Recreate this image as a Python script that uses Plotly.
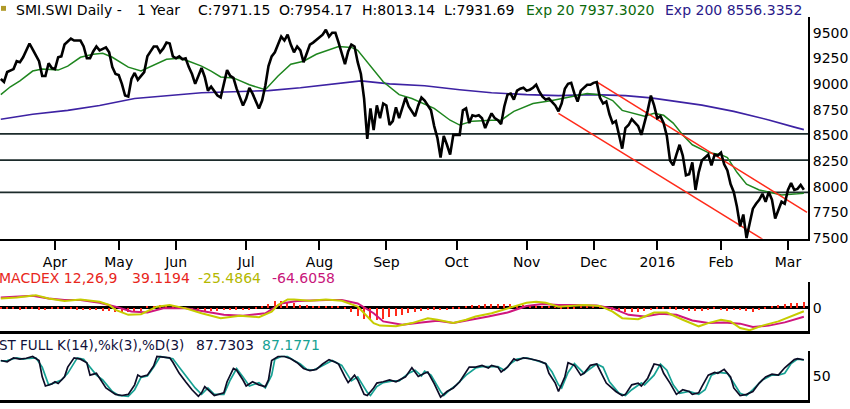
import pandas as pd
import plotly.graph_objects as go

# SIX trading calendar for the year shown (weekdays minus exchange holidays)
holidays = ["2015-04-03", "2015-04-06", "2015-05-01", "2015-05-14", "2015-05-25",
            "2015-12-24", "2015-12-25", "2015-12-31", "2016-01-01"]
days = pd.bdate_range("2015-03-09", "2016-03-08")
days = days[~days.isin(pd.to_datetime(holidays))]

month_labels = ["Apr", "May", "Jun", "Jul", "Aug", "Sep", "Oct", "Nov", "Dec", "2016", "Feb", "Mar"]
first_of_month = pd.Series(range(len(days)), index=days).groupby([days.year, days.month]).min()
month_ticks = list(first_of_month.values[1:])

# closing prices (session number -> close)
price_session = [0, 1, 2, 4, 5, 6, 7, 9, 10, 12, 13, 14, 15, 16, 17, 18, 19, 20, 22, 23,
                 25, 26, 27, 28, 29, 30, 31, 33, 34, 35, 36, 37, 38, 39, 40, 41, 42, 43, 45, 46,
                 47, 48, 49, 50, 51, 52, 53, 54, 55, 56, 57, 58, 59, 60, 61, 63, 64, 65, 66, 68,
                 69, 70, 71, 72, 73, 74, 76, 77, 78, 79, 80, 81, 82, 83, 84, 85, 86, 88, 89, 90,
                 91, 92, 93, 94, 95, 96, 97, 98, 100, 101, 102, 103, 104, 105, 106, 107, 108, 109, 110, 111,
                 112, 113, 114, 115, 116, 117, 118, 119, 120, 121, 122, 123, 124, 125, 126, 127, 128, 130, 131, 132,
                 133, 135, 136, 137, 138, 139, 140, 141, 142, 143, 144, 145, 146, 147, 148, 149, 150, 151, 152, 153,
                 154, 155, 156, 157, 158, 159, 160, 161, 162, 163, 164, 165, 166, 167, 168, 169, 170, 171, 172, 174,
                 175, 176, 177, 178, 179, 180, 181, 182, 184, 185, 186, 187, 188, 189, 190, 191, 192, 193, 194, 195,
                 196, 197, 198, 200, 201, 202, 203, 204, 205, 206, 207, 208, 209, 210, 211, 212, 213, 214, 215, 216,
                 217, 218, 219, 220, 221, 222, 223, 224, 225, 226, 227, 228, 229, 230, 231, 232, 233, 234, 235, 236,
                 237, 238, 239, 240, 241, 242, 243, 244, 245, 246, 247, 248, 249, 250, 251, 252]
close = [9050, 9022, 9117, 9146, 9223, 9213, 9261, 9395, 9337, 9223, 9079, 9079, 9203, 9156, 9146, 9261, 9270, 9385, 9443, 9424,
         9424, 9366, 9251, 9251, 9318, 9366, 9328, 9357, 9309, 9165, 9098, 9089, 9002, 8888, 8878, 9050, 9108, 9041, 9117, 9270,
         9318, 9366, 9366, 9309, 9347, 9404, 9395, 9270, 9251, 9270, 9242, 9251, 9165, 9098, 9002, 9156, 9069, 8936, 8974, 8888,
         8869, 9002, 9136, 9079, 9060, 8955, 8792, 8859, 8964, 8907, 8830, 8763, 8840, 8983, 9175, 9270, 9309, 9462, 9424, 9481,
         9385, 9309, 9366, 9328, 9213, 9290, 9385, 9404, 9452, 9481, 9529, 9462, 9500, 9500, 9404, 9309, 9194, 9318, 9385, 9366,
         9213, 9098, 8859, 8467, 8763, 8553, 8792, 8668, 8811, 8792, 8601, 8639, 8773, 8668, 8763, 8869, 8782, 8687, 8792, 8869,
         8840, 8744, 8591, 8476, 8285, 8495, 8409, 8313, 8505, 8505, 8505, 8744, 8763, 8620, 8696, 8687, 8696, 8668, 8572, 8648,
         8715, 8668, 8648, 8610, 8782, 8897, 8907, 8849, 8936, 8955, 8964, 8936, 8945, 8964, 8993, 8926, 8878, 8849, 8859, 8792,
         8735, 8811, 8955, 9002, 9012, 8907, 8830, 8936, 8993, 8993, 9012, 9020, 8869, 8811, 8830, 8706, 8620, 8639, 8495, 8371,
         8572, 8601, 8658, 8591, 8505, 8620, 8744, 8888, 8792, 8668, 8687, 8620, 8495, 8256, 8208, 8313, 8409, 8304, 8112, 8122,
         8237, 7969, 8141, 8256, 8285, 8313, 8208, 8313, 8304, 8333, 8218, 8160, 8026, 7950, 7806, 7615, 7730, 7500, 7644, 7787,
         7835, 7873, 7931, 7854, 7950, 7873, 7691, 7777, 7854, 7835, 7969, 8036, 7969, 7979, 8017, 7971.15]

ema20_session = [0, 3, 6, 10, 13, 18, 21, 25, 29, 32, 35, 40, 44, 48, 52, 56, 59, 63, 66, 69,
                 73, 78, 83, 87, 91, 95, 99, 106, 110, 112, 116, 120, 125, 129, 136, 141, 144, 148, 154, 157,
                 161, 167, 173, 180, 184, 188, 192, 195, 199, 202, 205, 208, 211, 214, 217, 222, 226, 228, 231, 234,
                 238, 241, 245, 250, 252]
ema20 = [8897, 8974, 9031, 9127, 9146, 9136, 9175, 9261, 9290, 9299, 9261, 9165, 9127, 9184, 9242, 9251, 9223, 9175, 9127, 9069,
         9060, 8993, 8945, 9079, 9194, 9223, 9290, 9366, 9357, 9328, 9175, 9022, 8897, 8859, 8763, 8648, 8601, 8639, 8648, 8648,
         8735, 8811, 8840, 8878, 8907, 8897, 8840, 8744, 8715, 8687, 8715, 8696, 8620, 8505, 8409, 8333, 8313, 8285, 8141, 8026,
         7969, 7950, 7921, 7931, 7937.30]

ema200_session = [0, 10, 21, 31, 42, 52, 63, 73, 84, 94, 104, 113, 122, 133, 144, 154, 165, 175, 186, 196,
                  204, 220, 230, 241, 249, 252]
ema200 = [8658, 8706, 8744, 8792, 8859, 8888, 8916, 8926, 8936, 8964, 9002, 9031, 9002, 8983, 8945, 8916, 8897, 8888, 8897, 8888,
          8866, 8795, 8734, 8651, 8581, 8556.34]

levels = [8515, 8260, 7945]
channel_upper_session = [187, 253]
channel_upper = [9022, 7750]
channel_lower_session = [175, 239]
channel_lower = [8715, 7490]

# MACD 12,26,9
macd_session = [0, 5, 11, 15, 20, 25, 31, 34, 36, 40, 44, 49, 53, 58, 63, 69, 75, 81, 85, 87,
                90, 92, 97, 102, 107, 112, 115, 117, 119, 124, 129, 134, 137, 142, 146, 149, 154, 159, 165, 168,
                171, 175, 178, 183, 188, 192, 195, 200, 205, 209, 214, 219, 222, 226, 229, 232, 235, 239, 244, 249,
                252]
macd = [65, 72, 89, 65, 47, 58, 42, 19, -16, -51, -47, 7, 19, -5, -40, -75, -58, -68, -28, 19,
        58, 58, 49, 58, 49, 7, -63, -110, -128, -133, -110, -75, -86, -110, -86, -63, -40, -5, 35, 42,
        35, 7, 12, 19, 12, -28, -75, -82, -35, -35, -86, -133, -110, -86, -98, -145, -161, -128, -98, -51,
        -25.49]
signal_session = [0, 10, 15, 20, 25, 31, 36, 41, 46, 51, 58, 64, 70, 76, 83, 88, 93, 102, 107, 112,
                  117, 120, 126, 132, 137, 142, 148, 153, 159, 165, 170, 175, 180, 187, 192, 197, 202, 207, 212, 217,
                  222, 227, 232, 236, 241, 246, 252]
signal = [72, 84, 65, 54, 54, 35, 7, -28, -35, -5, -5, -28, -51, -58, -40, 30, 47, 54, 54, 30,
          -40, -98, -121, -105, -93, -110, -86, -63, -35, 12, 26, 19, 19, 16, -5, -51, -63, -44, -51, -91,
          -110, -105, -114, -138, -128, -105, -64.61]
hist_session = list(range(0, 253, 2))
hist = [-10, -12, -12, -14, -10, -8, -14, -16, -12, -10, -8, -10, -14, -16, -18, -20, -22,
        -28, -35, -38, -35, -30, -22, 8, 14, 16, 12, 6,
        -8, -12, -18, -22, -25, -28, -24, -20, -16, -14, -18, -20, -10, 4,
        28, 45, 50, 42, 30, 20, 16, 12, 10, 8, 8, 4, -6,
        -30, -60, -80, -92, -88, -80, -70, -62, -50, -40, -30, -22, -18, -14, -20, -16, -10, -4,
        10, 16, 20, 24, 26, 28, 26, 24, 20, 18, 14, 12, 10,
        6, 2, -6, -10, -4, 4, 10, 8, 6, 2, -14, -22, -30, -34, -30, -24, -18,
        -10, -6, -8, -14, -20, -24, -28, -24, -16, -12, -18, -22, -20, -16, -24, -34,
        -20, -6, 10, 18, 24, 30, 34, 39]

# Full stochastic %k / %D
k_session = [0, 2, 4, 6, 8, 10, 12, 13, 14, 16, 17, 18, 20, 21, 23, 25, 27, 28, 30, 31,
             33, 36, 38, 40, 42, 43, 44, 46, 48, 49, 51, 53, 54, 56, 58, 60, 62, 63, 64, 65,
             67, 70, 71, 73, 74, 76, 77, 79, 81, 83, 84, 85, 87, 89, 91, 93, 95, 97, 99, 101,
             103, 105, 106, 108, 109, 111, 112, 114, 115, 117, 118, 120, 122, 124, 127, 129, 131, 133,
             134, 136, 138, 140, 142, 144, 146, 147, 149, 151, 153, 154, 156, 157, 159, 161, 162, 164, 166, 169,
             171, 172, 174, 175, 177, 178, 180, 182, 183, 185, 187, 188, 190, 193, 195, 196, 198, 200, 201, 203,
             205, 207, 208, 210, 212, 214, 216, 217, 219, 220, 222, 224, 225, 227, 229, 230, 232, 234, 236, 238,
             240, 242, 244, 246, 249, 250, 252]
k = [86, 83, 92, 89, 91, 95, 86, 49, 28.5, 33, 38, 34, 49, 71, 92, 89, 81, 53, 57, 46,
     24, 9.5, 7, 9.5, 31, 53, 49, 53, 74, 95, 93, 92, 82, 57, 38, 20, 5, 13, 27, 20,
     7, 13, 38, 68, 64, 42, 28.5, 38, 31, 27, 42, 86, 95, 95, 90, 81, 68, 63, 66, 78,
     88, 82, 78, 49, 36, 53, 42, 9.5, 7, 24, 35, 38, 42, 38, 49, 69.5, 50, 57,
     60, 34, 3.5, 16, 24, 38, 60, 71, 71, 75, 69, 75, 71, 60, 71, 90, 86, 92, 90, 85,
     79, 57, 35, 16, 49, 81, 75, 53, 57, 75, 78, 64, 35, 16, 7, 9.5, 31, 35, 28.5, 46,
     78, 75, 57, 35, 9.5, 20, 16, 9.5, 13, 27, 53, 59, 57, 66, 49, 24, 7, 9.5, 16, 35,
     49, 55, 53, 69.5, 88, 90, 87.73]
d_session = [0, 2, 5, 7, 9, 11, 13, 15, 17, 19, 21, 24, 26, 28, 30, 32, 35, 37, 40, 42,
             44, 46, 48, 50, 52, 54, 56, 59, 61, 63, 65, 67, 70, 72, 74, 76, 78, 81, 83, 85,
             86, 88, 90, 92, 94, 96, 98, 100, 103, 104, 107, 109, 110, 112, 115, 116, 118, 120, 123, 125,
             128, 130, 132,
             133, 135, 138, 139, 141, 143, 146, 149, 151, 154, 156, 158, 160, 162, 165, 168, 171, 173, 175, 176,
             178, 180, 183, 185, 187, 189, 191, 194, 196, 198, 201, 202, 205, 207, 209, 211, 213, 216, 219, 221,
             223, 225, 228, 230, 232, 234, 236, 239, 242, 244, 246, 248, 250, 252]
d = [85, 86, 92, 89, 91, 92, 71, 31, 36, 42, 57, 92, 89, 71, 53, 42, 16, 7, 5, 20,
     48, 51, 71, 95, 93, 90, 71, 42, 24, 9.5, 24, 9.5, 9.5, 42, 68, 49, 28.5, 36, 24, 53,
     89, 95, 95, 86, 78, 66, 64, 71, 81, 86, 75, 51, 40, 49, 14, 7, 27, 36, 40, 40,
     57, 64, 51,
     62, 53, 16, 7, 20, 31, 53, 69, 72, 71, 72, 64, 79, 89, 92, 86, 79, 60, 31, 24,
     59, 79, 57, 68, 78, 71, 38, 12, 7, 20, 35, 31, 53, 78, 64, 31, 12, 16, 9.5, 20,
     53, 59, 57, 35, 12, 7, 20, 42, 53, 53, 57, 79, 89, 87.18]

W, H, PLOT_W = 850, 409, 808

fig = go.Figure()

# price panel
fig.add_trace(go.Scatter(x=ema200_session, y=ema200, mode="lines", line=dict(color="#3d22a3", width=1.6)))
fig.add_trace(go.Scatter(x=ema20_session, y=ema20, mode="lines", line=dict(color="#1f861f", width=1.5)))
fig.add_trace(go.Scatter(x=channel_upper_session, y=channel_upper, mode="lines", line=dict(color="#ff2b1a", width=1.5)))
fig.add_trace(go.Scatter(x=channel_lower_session, y=channel_lower, mode="lines", line=dict(color="#ff2b1a", width=1.5)))
fig.add_trace(go.Scatter(x=price_session, y=close, mode="lines", line=dict(color="black", width=2.6)))

# MACD panel
fig.add_trace(go.Bar(x=hist_session, y=hist, width=0.45, marker=dict(color="#ff2a1a", line=dict(width=0)),
                     xaxis="x2", yaxis="y2"))
fig.add_trace(go.Scatter(x=signal_session, y=signal, mode="lines", line=dict(color="#d0167e", width=2),
                         xaxis="x2", yaxis="y2"))
fig.add_trace(go.Scatter(x=macd_session, y=macd, mode="lines", line=dict(color="#c6cc00", width=2),
                         xaxis="x2", yaxis="y2"))

# stochastic panel
fig.add_trace(go.Scatter(x=d_session, y=d, mode="lines", line=dict(color="#17a294", width=1.7),
                         xaxis="x3", yaxis="y3"))
fig.add_trace(go.Scatter(x=k_session, y=k, mode="lines", line=dict(color="#0c0c26", width=1.7),
                         xaxis="x3", yaxis="y3"))

shapes = [dict(type="line", xref="x domain", yref="y", x0=0, x1=1, y0=lv, y1=lv,
               line=dict(color="#1c2b2b", width=1.8), layer="below") for lv in levels]
shapes.append(dict(type="rect", xref="paper", yref="paper", x0=1 / PLOT_W, x1=6 / PLOT_W,
                   y0=1 - 11 / H, y1=1 - 6 / H, fillcolor="#b09a2a", line=dict(width=0)))


def label(px, py, text, color, size=14):
    return dict(x=px / PLOT_W, y=1 - py / H, xref="paper", yref="paper", text=text, showarrow=False,
                xanchor="left", yanchor="middle", font=dict(color=color, size=size))


annotations = [
    label(14, 10, "SMI.SWI Daily -", "black"),
    label(135, 10, "1 Year", "black"),
    label(196, 10, "C:7971.15", "black"),
    label(277, 10, "O:7954.17", "black"),
    label(360, 10, "H:8013.14", "black"),
    label(442, 10, "L:7931.69", "black"),
    label(524, 10, "Exp 20 7937.3020", "#0c6a0c"),
    label(663, 10, "Exp 200 8556.3352", "#2a1a8a"),
    label(-3, 283, "MACDEX 12,26,9", "#e8261c"),
    label(130, 283, "39.1194", "#e8261c"),
    label(196, 283, "-25.4864", "#b4b800"),
    label(270, 283, "-64.6058", "#c8157a"),
    label(-3, 351, "ST FULL K(14),%k(3),%D(3)", "#10103a", 13.5),
    label(194, 351, "87.7303", "#10103a"),
    label(260, 351, "87.1771", "#17a294"),
]

axis_common = dict(showgrid=False, zeroline=False, linecolor="black")

fig.update_layout(
    width=W, height=H,
    margin=dict(l=0, r=W - PLOT_W, t=0, b=0),
    paper_bgcolor="white", plot_bgcolor="white",
    showlegend=False, bargap=0,
    font=dict(family="DejaVu Sans", size=14, color="black"),
    xaxis=dict(domain=[0, 1], range=[-0.25, 253.3], anchor="y", showline=True, linewidth=2,
               ticks="outside", ticklen=9, tickwidth=2, tickcolor="black",
               tickvals=month_ticks, ticktext=month_labels, **axis_common),
    yaxis=dict(domain=[1 - 243 / H, 1 - 17 / H], range=[7493, 9656], side="right", anchor="x",
               showline=True, linewidth=2, ticks="",
               tickvals=[7500, 7750, 8000, 8250, 8500, 8750, 9000, 9250, 9500], **axis_common),
    xaxis2=dict(domain=[0, 1], matches="x", anchor="y2", showline=True, linewidth=2.5,
                showticklabels=False, ticks="", **axis_common),
    yaxis2=dict(domain=[1 - 337 / H, 1 - 287 / H], range=[-168, 182], side="right", anchor="x2",
                showline=True, linewidth=2, ticks="",
                tickvals=[0], ticktext=["0"], showgrid=False, linecolor="black",
                zeroline=True, zerolinecolor="black", zerolinewidth=2.5),
    xaxis3=dict(domain=[0, 1], matches="x", anchor="y3", showline=True, linewidth=2.5,
                showticklabels=False, ticks="", **axis_common),
    yaxis3=dict(domain=[1 - 407 / H, 1 - 357 / H], range=[-3.3, 107.7], side="right", anchor="x3",
                showline=True, linewidth=2, ticks="",
                tickvals=[50], **axis_common),
    shapes=shapes,
    annotations=annotations,
)

# the page's default body margin would push the fixed-size figure 8px right and down
fig.write_html("out.html", config={"displayModeBar": False},
               post_script="document.body.style.margin='0';")
